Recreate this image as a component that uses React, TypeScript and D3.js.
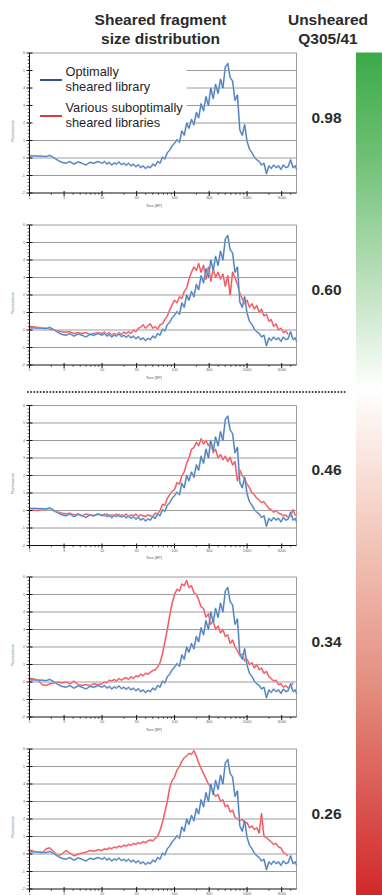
import React from "react";
import * as d3 from "d3";

// ---- data ----
const sizeBP = [
  1, 1.15, 1.3, 1.5, 1.7, 1.9, 2.2, 2.5, 2.8, 3.2, 3.6, 4.1, 4.7, 5.3, 6, 6.8, 7.7, 8.8,
  10, 10.8, 11.7, 12.6, 13.6, 14.7, 15.8, 17.1, 18.5, 20, 21.5, 23.2, 25.1, 27.1, 29.3, 31.6, 34.1, 36.8, 39.8, 43, 46.4, 50.1, 54.1, 58.4, 63.1, 68.1, 73.6, 79.4, 85.8, 92.6,
  100, 108, 117, 126, 136, 147, 158, 171, 185, 200, 215, 232, 251, 271, 293, 316, 341, 368, 398, 430, 464, 501, 541, 584, 631, 681, 736, 794, 858, 926,
  1000, 1080, 1170, 1260, 1360, 1470, 1580, 1710, 1850, 2000, 2150, 2320, 2510, 2710, 2930, 3160, 3410, 3680, 3980, 4300, 4640, 4800,
];

const optimalLibrary = [
  0.12, 0.12, 0.11, 0.1, 0.08, 0.15, 0.0, -0.15, -0.25, -0.3, -0.2, -0.35, -0.22, -0.3, -0.4, -0.25, -0.3, -0.2,
  -0.3, -0.2, -0.35, -0.25, -0.4, -0.28, -0.35, -0.22, -0.38, -0.3, -0.42, -0.3, -0.45, -0.35, -0.5, -0.38, -0.55, -0.45, -0.6, -0.48, -0.55, -0.35, -0.45, -0.2, -0.3, 0.05, -0.05, 0.3, 0.45, 0.7,
  0.85, 1.05, 0.9, 1.55, 1.3, 2.0, 1.7, 2.2, 1.9, 2.6, 2.3, 3.1, 2.7, 3.5, 3.0, 4.0, 3.4, 4.2, 3.7, 4.5, 4.0, 5.2, 5.4, 4.6, 4.4, 3.3, 3.6, 1.6, 1.3, 1.9,
  0.95, 0.5, 0.3, 0.05, -0.1, -0.2, -0.4, -0.3, -0.9, -0.45, -0.6, -0.4, -0.55, -0.45, -0.65, -0.4, -0.55, -0.5, -0.1, -0.55, -0.45, -0.65,
];

const subopt060 = [
  0.2, 0.18, 0.15, 0.12, 0.1, 0.05, 0.0, -0.05, -0.1, -0.12, -0.1, -0.2, -0.15, -0.2, -0.15, -0.25, -0.2, -0.15,
  -0.2, -0.12, -0.25, -0.15, -0.3, -0.2, -0.28, -0.15, -0.25, -0.12, -0.2, -0.1, -0.2, 0.0, -0.1, 0.1, 0.15, 0.3, 0.1, 0.25, 0.35, 0.1, 0.2, 0.05, 0.3, 0.35, 0.6, 0.8, 1.15, 1.45,
  1.7, 1.55, 1.9, 1.8, 2.2, 2.4, 2.9, 3.3, 3.6, 3.4, 3.8, 3.3, 3.7, 2.9, 3.6, 2.8, 3.5, 3.0, 3.3, 2.9, 3.2, 2.5, 3.1, 2.0, 3.3, 3.0, 2.6, 2.1, 1.8, 1.5,
  1.7, 1.3, 1.5, 1.2, 1.4, 1.0, 1.2, 0.8, 0.9, 0.5, 0.6, 0.2, 0.35, 0.0, 0.1, -0.15, -0.05, -0.25, null, null, null, null,
];

const subopt046 = [
  0.0, 0.02, 0.0, 0.05, 0.1, 0.12, -0.05, -0.1, -0.15, -0.2, -0.15, -0.25, -0.2, -0.3, -0.2, -0.25, -0.3, -0.2,
  -0.25, -0.3, -0.2, -0.35, -0.25, -0.3, -0.2, -0.35, -0.25, -0.3, -0.2, -0.35, -0.25, -0.3, -0.2, -0.35, -0.25, -0.3, -0.35, -0.25, -0.3, -0.35, -0.15, -0.2, 0.0, 0.35, 0.3, 0.7, 0.9, 1.1,
  1.2, 1.6, 1.5, 2.0, 2.2, 2.7, 3.0, 3.5, 3.6, 3.9, 3.7, 4.1, 3.8, 4.0, 3.7, 3.95, 3.3, 3.5, 3.0, 3.2, 2.9, 3.1, 2.8, 3.05, 2.6, 2.8, 1.7, 2.3, 2.0, 1.8,
  1.5, 1.3, 1.0, 0.9, 0.7, 0.6, 0.45, 0.5, 0.3, 0.1, 0.05, -0.1, 0.0, -0.15, -0.2, -0.3, -0.25, -0.4, -0.3, 0.05, -0.3, null,
];

const subopt034 = [
  0.2, 0.18, 0.1, -0.15, -0.2, -0.1, -0.05, 0.0, -0.05, 0.0, -0.1, 0.05, -0.15, -0.2, -0.15, -0.2, -0.1, -0.15,
  -0.1, 0.0, -0.05, 0.1, 0.05, 0.15, 0.05, 0.2, 0.1, 0.2, 0.25, 0.15, 0.3, 0.2, 0.35, 0.3, 0.45, 0.35, 0.5, 0.45, 0.55, 0.65, 0.7, 0.85, 1.1, 1.6, 2.3, 3.0, 3.8, 4.5,
  5.0, 5.3, 5.2, 5.6, 5.5, 5.8, 5.4, 5.5, 5.1, 5.0, 4.7, 4.3, 4.2, 3.7, 3.9, 3.3, 3.5, 3.0, 3.2, 2.8, 3.0, 2.6, 2.7, 2.2, 2.4, 2.0, 1.8, 1.5, 1.6, 1.2,
  1.3, 1.0, 1.1, 0.8, 1.0, 0.7, 0.8, 0.5, 0.6, 0.3, 0.2, 0.05, 0.1, -0.15, -0.1, -0.3, -0.2, -0.35, -0.25, -0.05, null, null,
];

const subopt026 = [
  0.23, 0.15, 0.1, 0.05, 0.3, 0.35, 0.1, -0.1, 0.0, 0.2, 0.05, -0.1, 0.0, 0.05, 0.1, 0.2, 0.15, 0.25,
  0.2, 0.3, 0.25, 0.35, 0.3, 0.4, 0.35, 0.45, 0.4, 0.5, 0.45, 0.55, 0.5, 0.6, 0.55, 0.65, 0.6, 0.7, 0.65, 0.75, 0.8, 0.75, 0.9, 1.0, 1.35, 1.8, 2.4, 3.0, 3.8, 4.2,
  4.4, 4.8, 5.0, 5.3, 5.5, 5.6, 5.75, 5.7, 5.9, 5.6, 5.2, 4.9, 4.6, 4.3, 4.0, 3.8, 3.5, 3.3, 3.4, 3.0, 3.1, 2.7, 2.8, 2.4, 2.5, 2.1, 2.0, 1.9, 2.0, 1.7,
  1.8, 1.5, 1.6, 1.4, 1.5, 1.2, 2.3, 1.0, 0.95, 0.8, 0.7, 0.55, 0.6, 0.4, 0.35, 0.1, 0.0, -0.1, null, null, null, null,
];

const panelRed: (number | null)[][] = [[], subopt060, subopt046, subopt034, subopt026];
const unshearedScores = ["0.98", "0.60", "0.46", "0.34", "0.26"];
const xTickValues = [1, 3, 10, 30, 100, 300, 1000, 3000];
const yTickValues = [-2, -1, 0, 1, 2, 3, 4, 5, 6];
const legendItems = [
  { lines: ["Optimally", "sheared library"], color: "#1f3c91" },
  { lines: ["Various suboptimally", "sheared libraries"], color: "#d9262e" },
];

// ---- layout ----
const W = 382;
const H = 895;
const FONT = "'Liberation Sans', Arial, Helvetica, sans-serif";
const panelTops = [53, 225, 405.5, 577, 749];
const plotL = 29.5;
const plotR = 296.5;
const plotH = 140;

const xScale = d3.scaleLog().domain([1, 4800]).range([plotL, plotR]);

function Panel({ top, idx }: { top: number; idx: number }) {
  const y = d3.scaleLinear().domain([-2, 6]).range([top + plotH, top]);
  const line = d3
    .line<[number, number | null]>()
    .defined((d) => d[1] != null)
    .x((d) => xScale(d[0]))
    .y((d) => y(d[1] as number));
  const bluePts = sizeBP.map((s, i) => [s, optimalLibrary[i]] as [number, number | null]);
  const redVals = panelRed[idx];
  const redPts = redVals.length ? sizeBP.map((s, i) => [s, redVals[i]] as [number, number | null]) : null;
  const minorX = xScale.ticks().filter((t) => !xTickValues.includes(t) && t <= 4800);
  const minorY = d3.range(-2, 6.001, 0.2).filter((v) => Math.abs(v - Math.round(v)) > 0.01);
  const bottom = top + plotH;
  return (
    <g>
      {/* grid */}
      {yTickValues.filter((v) => v > -2).map((v) => (
        <line key={v} x1={plotL} x2={plotR} y1={y(v)} y2={y(v)} stroke="#9c9c9c" strokeWidth={1} />
      ))}
      <line x1={plotR} x2={plotR} y1={top} y2={bottom} stroke="#9c9c9c" strokeWidth={1} />
      {idx === 0 && (
        <g>
          <rect x={31} y={61} width={155.5} height={71} fill="#fff" />
          {legendItems.map((it, i) => {
            const by = 76 + i * 36;
            return (
              <g key={i}>
                <line x1={40} x2={62} y1={by + 4} y2={by + 4} stroke={it.color} strokeWidth={1.8} />
                {it.lines.map((t, j) => (
                  <text key={j} x={65.5} y={by + j * 15} fontSize={12.8} fill="#262626" fontFamily={FONT}>
                    {t}
                  </text>
                ))}
              </g>
            );
          })}
        </g>
      )}
      {/* series */}
      {redPts && (
        <g fill="none" strokeLinejoin="round">
          <path d={line(redPts) || ""} stroke="#f6a9ab" strokeWidth={1.9} />
          <path d={line(redPts) || ""} stroke="#ec323c" strokeWidth={0.75} />
        </g>
      )}
      <g fill="none" strokeLinejoin="round">
        <path d={line(bluePts) || ""} stroke="#a2c0e2" strokeWidth={1.9} />
        <path d={line(bluePts) || ""} stroke="#2d64a8" strokeWidth={0.75} />
      </g>
      {/* y axis */}
      <line x1={plotL} x2={plotL} y1={top} y2={bottom} stroke="#111" strokeWidth={1} />
      {yTickValues.map((v) => (
        <g key={v}>
          <line x1={plotL - 3} x2={plotL + 3} y1={y(v)} y2={y(v)} stroke="#111" strokeWidth={1} />
          <text x={25} y={y(v)} dy="0.35em" textAnchor="end" fontSize={3.8} fill="#666" fontFamily={FONT}>
            {v}
          </text>
        </g>
      ))}
      {minorY.map((v, i) => (
        <line key={i} x1={plotL - 1.8} x2={plotL} y1={y(v)} y2={y(v)} stroke="#111" strokeWidth={0.7} />
      ))}
      <text
        transform={`translate(13.5,${top + 78}) rotate(-90)`}
        textAnchor="middle"
        fontSize={3.6}
        fill="#666"
        fontFamily={FONT}
      >
        Fluorescence
      </text>
      {/* x axis */}
      <line x1={plotL} x2={plotR} y1={bottom} y2={bottom} stroke="#111" strokeWidth={1} />
      {xTickValues.map((t) => (
        <g key={t}>
          <line x1={xScale(t)} x2={xScale(t)} y1={bottom - 2} y2={bottom + 3} stroke="#111" strokeWidth={1} />
          <text x={xScale(t)} y={bottom + 6.3} textAnchor="middle" fontSize={3.8} fill="#666" fontFamily={FONT}>
            {t}
          </text>
        </g>
      ))}
      {minorX.map((t, i) => (
        <line key={i} x1={xScale(t)} x2={xScale(t)} y1={bottom} y2={bottom + 1.8} stroke="#111" strokeWidth={0.7} />
      ))}
      {bottom + 14 < H && (
        <text x={154} y={bottom + 13.5} textAnchor="middle" fontSize={3.8} fill="#666" fontFamily={FONT}>
          Size [BP]
        </text>
      )}
      {/* score */}
      <text
        x={326.5}
        y={top + 64}
        dy="0.36em"
        textAnchor="middle"
        fontSize={15.5}
        fontWeight="bold"
        fill="#2b2b2b"
        fontFamily={FONT}
      >
        {unshearedScores[idx]}
      </text>
    </g>
  );
}

export default function App() {
  return (
    <div style={{ position: "absolute", left: 0, top: 0, width: W, height: H, overflow: "hidden" }}>
      <svg width={W} height={H} style={{ display: "block", background: "#fff" }}>
        <defs>
          <linearGradient id="scoreGrad" x1="0" y1="0" x2="0" y2="1">
            <stop offset="0" stopColor="#3aaa48" />
            <stop offset="0.12" stopColor="#6dbf72" />
            <stop offset="0.28" stopColor="#bfe2c0" />
            <stop offset="0.4" stopColor="#ffffff" />
            <stop offset="0.55" stopColor="#f5cfc4" />
            <stop offset="0.75" stopColor="#e38f80" />
            <stop offset="1" stopColor="#d2282b" />
          </linearGradient>
        </defs>
        <g fontFamily={FONT} fontWeight="bold" fill="#2b2b2b" fontSize={15.5} textAnchor="middle">
          <text x={160.5} y={25}>Sheared fragment</text>
          <text x={160.5} y={43.5}>size distribution</text>
          <text x={328} y={25}>Unsheared</text>
          <text x={328} y={43.5}>Q305/41</text>
        </g>
        <rect x={356} y={52.5} width={26} height={H - 52.5} fill="url(#scoreGrad)" />
        {panelTops.map((t, i) => (
          <Panel key={i} top={t} idx={i} />
        ))}
        <line x1={27} x2={347} y1={392} y2={392} stroke="#111" strokeWidth={1.7} strokeDasharray="1.7 1.5" />
      </svg>
    </div>
  );
}
